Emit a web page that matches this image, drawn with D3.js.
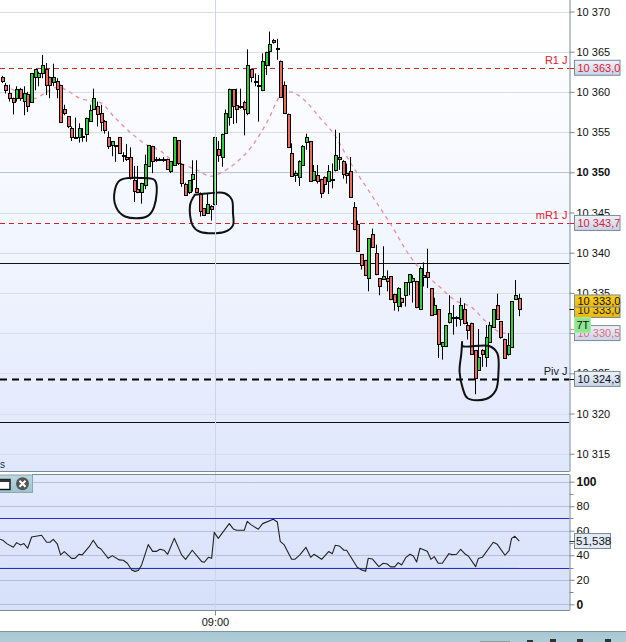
<!DOCTYPE html>
<html><head><meta charset="utf-8">
<script src="https://cdn.jsdelivr.net/npm/d3@7/dist/d3.min.js"></script>
<style>html,body{margin:0;padding:0;background:#fff;overflow:hidden}svg{display:block}text{font-family:"Liberation Sans",Arial,sans-serif}</style>
</head><body><svg id="c" width="626" height="642"></svg>
<script>
const opens=[10361.8,10360.9,10359.9,10359.3,10359.2,10360.4,10358.9,10359.8,10358.7,10361.9,10361.9,10362.3,10362.8,10361.9,10361.2,10361.4,10360.9,10357.9,10357.0,10355.5,10354.4,10354.4,10354.5,10354.8,10356.4,10357.9,10358.3,10357.4,10356.4,10354.4,10353.4,10353.4,10354.4,10352.1,10351.9,10351.9,10349.0,10347.9,10347.5,10348.4,10350.8,10353.3,10351.7,10351.7,10351.6,10351.7,10350.2,10350.9,10354.0,10351.0,10348.5,10347.5,10349.2,10348.0,10347.4,10345.5,10345.0,10345.8,10346.0,10352.9,10351.9,10354.9,10356.9,10360.3,10358.4,10358.3,10358.8,10357.4,10362.8,10361.4,10360.9,10360.2,10363.4,10365.1,10366.5,10365.5,10363.9,10360.9,10357.3,10352.4,10349.7,10349.4,10350.9,10353.8,10353.9,10349.1,10349.7,10349.2,10349.4,10348.9,10349.2,10350.3,10351.9,10351.4,10349.9,10350.2,10345.7,10343.6,10339.8,10339.1,10336.8,10342.3,10340.0,10336.8,10336.7,10336.8,10337.1,10334.9,10333.4,10334.4,10334.7,10336.4,10336.5,10336.5,10333.0,10337.2,10337.6,10335.6,10332.4,10333.0,10328.4,10328.4,10331.4,10332.0,10332.0,10331.8,10333.0,10331.0,10331.3,10327.9,10325.4,10327.9,10327.0,10328.9,10330.8,10333.5,10331.5,10329.3,10327.4,10328.3,10334.3,10334.4];
const highs=[10362.0,10361.1,10360.9,10359.3,10360.7,10360.5,10360.7,10360.0,10362.3,10362.8,10362.5,10364.6,10363.6,10361.9,10363.5,10361.7,10360.9,10358.4,10357.0,10355.7,10356.8,10356.1,10355.5,10356.8,10358.4,10360.4,10358.8,10358.4,10356.5,10355.1,10353.9,10353.4,10354.4,10352.5,10353.5,10353.1,10350.8,10350.8,10348.7,10352.2,10353.4,10353.3,10351.9,10351.8,10351.9,10351.7,10351.4,10354.4,10354.0,10351.1,10348.7,10349.0,10351.5,10351.5,10347.5,10345.5,10347.4,10345.9,10354.4,10353.9,10354.8,10357.8,10360.4,10360.3,10360.4,10360.4,10358.9,10365.3,10362.9,10362.3,10362.1,10364.8,10365.0,10367.5,10366.6,10366.6,10363.9,10361.3,10357.3,10353.6,10350.2,10351.5,10353.4,10354.8,10353.9,10350.9,10350.9,10349.2,10349.5,10350.9,10351.1,10355.3,10354.9,10351.5,10351.1,10351.9,10346.3,10344.0,10339.8,10339.1,10341.8,10343.0,10341.0,10336.8,10340.8,10337.8,10337.1,10334.9,10335.7,10334.4,10336.3,10337.3,10337.2,10336.5,10338.3,10338.8,10340.5,10335.6,10334.4,10333.0,10328.9,10331.0,10334.7,10333.5,10332.1,10334.4,10333.7,10331.4,10331.3,10327.9,10330.5,10328.0,10331.0,10331.4,10333.0,10334.9,10331.5,10329.3,10330.0,10334.0,10336.6,10334.9];
const lows=[10361.1,10359.8,10358.8,10357.2,10358.8,10358.9,10357.1,10357.5,10358.7,10360.2,10360.7,10361.7,10359.6,10359.2,10360.7,10359.2,10356.2,10357.1,10355.5,10353.9,10354.2,10353.7,10353.8,10353.8,10356.3,10357.8,10355.7,10355.1,10354.8,10352.9,10352.0,10351.3,10352.3,10351.3,10351.4,10349.1,10346.3,10347.4,10346.1,10347.9,10350.7,10349.9,10351.3,10351.4,10351.3,10350.3,10349.9,10350.9,10350.9,10348.2,10347.1,10347.3,10347.6,10347.4,10344.5,10344.6,10344.8,10344.0,10345.9,10351.3,10350.7,10354.8,10355.8,10356.0,10356.1,10357.9,10354.6,10357.1,10361.2,10360.7,10356.3,10360.1,10362.1,10363.2,10366.0,10364.0,10359.3,10357.3,10353.2,10349.6,10348.8,10348.3,10350.9,10352.8,10348.8,10349.0,10348.6,10346.8,10347.5,10347.3,10348.0,10350.1,10350.3,10349.2,10348.6,10346.9,10342.8,10340.1,10337.9,10337.1,10335.2,10340.6,10337.2,10334.7,10336.6,10335.2,10334.1,10332.8,10332.7,10333.2,10333.3,10334.7,10333.8,10333.1,10332.9,10335.8,10335.6,10332.2,10332.3,10326.9,10326.7,10328.3,10331.2,10329.8,10330.8,10330.9,10331.1,10329.2,10327.3,10322.4,10325.3,10325.8,10325.8,10328.8,10330.7,10331.8,10329.3,10326.8,10327.2,10328.2,10334.3,10332.1];
const closes=[10361.4,10360.2,10359.3,10358.7,10360.4,10359.2,10359.9,10358.2,10362.3,10362.8,10362.4,10363.3,10360.8,10360.9,10361.8,10360.4,10356.3,10357.4,10355.7,10354.4,10354.3,10355.5,10354.4,10356.8,10357.8,10359.3,10357.3,10356.3,10355.3,10353.3,10353.9,10353.3,10352.4,10352.0,10351.6,10349.3,10347.7,10347.6,10348.7,10351.0,10353.4,10351.4,10351.5,10351.6,10351.5,10350.4,10351.4,10354.4,10351.1,10348.7,10347.2,10349.0,10349.8,10347.5,10345.2,10344.7,10346.1,10345.4,10354.4,10352.1,10354.8,10357.4,10360.4,10358.2,10357.9,10358.2,10357.9,10363.4,10361.8,10361.3,10360.8,10363.8,10365.0,10366.0,10366.2,10365.4,10359.4,10357.4,10353.2,10349.6,10349.9,10351.4,10353.3,10354.4,10348.9,10350.2,10348.9,10347.4,10348.6,10350.2,10349.1,10352.2,10351.7,10349.8,10349.7,10346.9,10342.9,10340.2,10338.5,10337.2,10341.8,10340.7,10337.4,10335.8,10337.1,10336.5,10334.2,10333.9,10335.6,10333.9,10336.3,10337.3,10336.8,10333.2,10338.1,10337.0,10337.0,10332.3,10333.5,10328.7,10328.9,10331.0,10332.5,10331.9,10331.9,10333.5,10331.2,10330.4,10327.4,10324.4,10327.0,10327.4,10329.5,10331.0,10333.0,10331.8,10329.5,10326.9,10328.5,10334.0,10334.8,10333.0];

const maIndex=[2.4,8.9,12.1,15.3,17.6,21.2,23.9,26.6,30.7,35.3,39.4,43,45.7,49.8,53.9,56.6,60.3,63.5,68,72.5,75.7,78.5,82.1,86.6,90.7,94.8,99.8,105.7,111.6,115.7,119.4,123.4,128,132,136.6,140.3];
const maValues=[10360.4,10359.2,10360.0,10360.6,10360.2,10359.2,10358.9,10358.7,10356.8,10354.8,10353.4,10352.7,10351.7,10350.9,10350.1,10349.5,10350.1,10351.1,10353.2,10356.5,10359.4,10360.0,10359.1,10356.8,10354.6,10351.3,10347.8,10343.7,10339.3,10337.2,10335.7,10334.1,10333.2,10331.4,10330.0,10330.6];

const rsiIndex=[-0.6,0.3,1.2,3,3.9,5,5.9,6.9,8,9.2,10.7,12.1,13,13.9,15,15.9,16.9,18.9,19.8,20.9,21.8,23.7,24.8,26,26.9,28.9,30,31.9,33,34.1,35.3,36.2,37.1,38,39.8,41,42.1,43,44.1,45.1,46.9,48.9,50,51.8,54.4,55.1,56.2,57.1,57.8,58.9,61.9,63,63.9,66,66.8,67.8,69.8,71,73.9,75,75.8,76.9,78.9,79.8,81.2,82.8,84.1,85,87.1,89,90,90.8,91.9,93.2,93.9,96.8,98,99.1,99.8,100.9,102.7,103.9,105,105.9,107,108,108.9,110.1,111.2,112.1,113,113.9,115.9,116.9,117.8,118.9,120,121.8,122.7,123.9,125,126.2,127.1,129.1,129.8,130.9,133.9,135,137.1,138.2,138.9,139.8,141];
const rsiValues=[53.0,52.0,49.5,46.5,50.3,48.4,49.5,45.7,54.9,55.5,56.3,50.6,50.6,53.0,49.2,40.3,43.0,37.5,37.5,40.8,40.3,47.0,52.2,46.8,45.1,37.5,39.7,36.2,35.9,33.5,28.0,26.7,27.5,32.1,48.7,43.2,43.2,44.9,44.1,40.8,53.8,40.3,36.7,44.1,34.8,34.3,38.3,37.5,58.7,53.8,65.8,61.5,60.4,60.4,67.7,65.0,61.2,65.8,69.3,67.2,51.4,48.4,36.7,36.7,40.5,46.5,38.3,40.8,36.7,43.0,41.3,48.1,47.6,44.1,44.1,30.2,28.0,26.9,37.5,37.0,30.7,33.5,32.9,30.5,30.5,34.0,32.1,38.3,40.8,39.4,34.5,45.7,43.2,36.7,38.9,33.5,33.5,41.3,40.5,40.8,44.9,41.1,39.4,30.7,37.3,38.3,50.6,48.9,40.0,43.8,53.8,55.5,51.538];

const priceTicks=[10315,10320,10325,10330,10335,10340,10345,10350,10355,10360,10365,10370];
const rsiTicks=[0,20,40,60,80,100];
const rsiMinorTicks=[10,30,50,70,90];
const rsiBands=[30,70];
const levelNames=["R1 J","mR1 J","Piv J"];
const levelValues=[10363.0,10343.7,10324.3];
const levelColors=["#e0202c","#e0202c","#1a1a2e"];
const solidLevels=[10338.7,10318.9];
const lastClose=10333.0, lastMA=10330.5, lastRSI=51.538;
const timeIndex=[58], timeLabels=["09:00"];

const circleA=[[34.4,10349.3],[32.1,10349.0],[30.7,10347.8],[31,10345.7],[33.5,10344.5],[39.4,10344.5],[41.4,10345.7],[41.6,10349.0],[37.5,10349.3],[34.6,10349.3]];
const circleB=[[52.5,10347.2],[56.5,10347.4],[60.7,10347.4],[62.6,10346.6],[62.9,10345],[62.9,10343.4],[60.7,10342.6],[53.9,10342.6],[51.9,10343.4],[51.2,10345.9],[52.5,10347.2]];
const circleC=[[125.4,10328.9],[125.5,10328.4],[132.8,10328.4],[135,10327.5],[135.3,10325.0],[134.6,10322.9],[131.9,10321.8],[126.9,10321.9],[125.6,10323.1],[124.7,10325.2],[125.2,10327.5],[125.4,10328.9]];

const W=626,H=642,plotR=569.5,mainBottom=471.5,rsiTop=474.5,rsiBottom=610.5;
const svg=d3.select("#c");
const defs=svg.append("defs");
function grad(id,stops){const g=defs.append("linearGradient").attr("id",id).attr("x1",0).attr("y1",0).attr("x2",0).attr("y2",1);stops.forEach(s=>g.append("stop").attr("offset",s[0]).attr("stop-color",s[1]));}
grad("gMain",[[0,"#ffffff"],[0.06,"#ffffff"],[0.5,"#f2f6fe"],[1,"#dfe7fc"]]);
grad("gRsi",[[0,"#e3eafe"],[1,"#d6e0f9"]]);
grad("gTag",[[0,"#eef3fc"],[1,"#c5d3ea"]]);
grad("gYel",[[0,"#f9d21e"],[1,"#eeb60c"]]);
grad("gBar",[[0,"#a6c8d3"],[1,"#b0cdd8"]]);
grad("gTab",[[0,"#b9d8e0"],[1,"#9cc3cf"]]);
defs.append("clipPath").attr("id","cMain").append("rect").attr("x",0).attr("y",0).attr("width",plotR).attr("height",mainBottom);

const x=d3.scaleLinear().domain([0,141]).range([2.3,519.3]);
const y=d3.scaleLinear().domain([10315,10370]).range([453.7,11.5]);
const yr=d3.scaleLinear().domain([0,100]).range([604.3,481.7]);
const cr=v=>Math.round(v)+0.5;

// backgrounds
svg.append("rect").attr("x",0).attr("y",0).attr("width",plotR).attr("height",mainBottom).attr("fill","url(#gMain)");
svg.append("rect").attr("x",0).attr("y",rsiTop).attr("width",plotR).attr("height",rsiBottom-rsiTop).attr("fill","url(#gRsi)");

// grid
const main=svg.append("g").attr("clip-path","url(#cMain)");
main.selectAll("line.g").data(priceTicks).join("line").attr("class","g").attr("x1",0).attr("x2",plotR)
  .attr("y1",d=>cr(y(d))).attr("y2",d=>cr(y(d))).attr("stroke",d=>d===10350?"#b9c2d6":"#d8dde8");
svg.append("g").selectAll("line").data(rsiTicks).join("line").attr("x1",0).attr("x2",plotR)
  .attr("y1",d=>cr(yr(d))).attr("y2",d=>cr(yr(d))).attr("stroke","#b4c0d8");
svg.append("g").selectAll("line").data(timeIndex).join("line").attr("x1",d=>cr(x(d))).attr("x2",d=>cr(x(d)))
  .attr("y1",0).attr("y2",rsiBottom).attr("stroke","#cdd6e6");

// levels
main.selectAll("line.s").data(solidLevels).join("line").attr("class","s").attr("x1",0).attr("x2",plotR)
  .attr("y1",d=>cr(y(d))).attr("y2",d=>cr(y(d))).attr("stroke","#111");
main.selectAll("line.l").data(levelValues).join("line").attr("class","l").attr("x1",0).attr("x2",plotR)
  .attr("y1",d=>cr(y(d))).attr("y2",d=>cr(y(d)))
  .attr("stroke",(d,i)=>i===2?"#000":"#d8202a").attr("stroke-width",(d,i)=>i===2?2:1)
  .attr("stroke-dasharray",(d,i)=>i===2?"7 5":"5 4");

// moving average
const ma=maIndex.map((d,i)=>[d,maValues[i]]);
main.append("path").attr("fill","none").attr("stroke","#ea8e9c").attr("stroke-width",1.3).attr("stroke-dasharray","4 4")
  .attr("d",d3.line().x(d=>x(d[0])).y(d=>y(d[1])).curve(d3.curveMonotoneX)(ma));

// candles
const candles=opens.map((o,i)=>({i,o,h:highs[i],l:lows[i],c:closes[i]}));
const cg=main.selectAll("g.c").data(candles).join("g").attr("class","c");
cg.append("line").attr("x1",d=>cr(x(d.i)-0.5)).attr("x2",d=>cr(x(d.i)-0.5)).attr("y1",d=>y(d.h)).attr("y2",d=>y(d.l)).attr("stroke","#000");
cg.append("rect").attr("x",d=>Math.round(x(d.i)-0.5)-0.5).attr("width",3)
  .attr("y",d=>Math.round(y(Math.max(d.o,d.c)))+0.5)
  .attr("height",d=>Math.max(1,Math.round(y(Math.min(d.o,d.c)))-Math.round(y(Math.max(d.o,d.c)))))
  .attr("fill",d=>d.c>=d.o?"#2ed03c":"#ec6a60").attr("stroke","#000");

// hand-drawn marks
[circleA,circleB,circleC].forEach(c=>{
  main.append("path").attr("fill","none").attr("stroke","#111").attr("stroke-width",2).attr("stroke-linecap","round")
    .attr("d",d3.line().x(d=>x(d[0])).y(d=>y(d[1])).curve(d3.curveCatmullRom.alpha(0.5))(c));
});

// level labels
svg.append("g").selectAll("text").data(levelNames).join("text")
  .attr("x",567.5).attr("y",(d,i)=>y(levelValues[i])-4).attr("text-anchor","end").attr("font-size",11)
  .attr("fill",(d,i)=>levelColors[i]).text(d=>d);

// RSI
const rsi=rsiIndex.map((d,i)=>[d,rsiValues[i]]);
defs.append("clipPath").attr("id","cR").append("rect").attr("x",0).attr("width",plotR).attr("y",yr(30)).attr("height",yr(0)-yr(30));
svg.append("path").attr("clip-path","url(#cR)").attr("fill","#8fc4a0")
  .attr("d",d3.area().x(d=>x(d[0])).y0(yr(30)).y1(d=>yr(d[1]))(rsi));
svg.append("g").selectAll("line").data(rsiBands).join("line").attr("x1",0).attr("x2",plotR)
  .attr("y1",d=>cr(yr(d))).attr("y2",d=>cr(yr(d))).attr("stroke","#2a2ad2");
svg.append("path").attr("fill","none").attr("stroke","#222").attr("stroke-width",1.1).attr("stroke-linejoin","round")
  .attr("d",d3.line().x(d=>x(d[0])).y(d=>yr(d[1]))(rsi));

// small tab
svg.append("text").attr("x",0).attr("y",468).attr("font-size",10).attr("fill","#1a2a50").text("s");
svg.append("rect").attr("x",-1).attr("y",475).attr("width",33.5).attr("height",17.5).attr("fill","url(#gTab)").attr("stroke","#8aa7b2");
svg.append("rect").attr("x",-3).attr("y",479.5).attr("width",13).attr("height",10).attr("fill","#fff").attr("stroke","#111").attr("stroke-width",1.4);
svg.append("rect").attr("x",-3).attr("y",479.5).attr("width",13).attr("height",2.5).attr("fill","#333");
svg.append("circle").attr("cx",22.5).attr("cy",483.7).attr("r",6.5).attr("fill","#555");
svg.append("path").attr("d","M19.5 480.7L25.5 486.7M25.5 480.7L19.5 486.7").attr("stroke","#fff").attr("stroke-width",2);

// frames
svg.append("line").attr("x1",0).attr("x2",plotR).attr("y1",mainBottom).attr("y2",mainBottom).attr("stroke","#7b8b94");
svg.append("line").attr("x1",32).attr("x2",plotR).attr("y1",rsiTop).attr("y2",rsiTop).attr("stroke","#7b8b94");
svg.append("line").attr("x1",0).attr("x2",plotR).attr("y1",rsiBottom).attr("y2",rsiBottom).attr("stroke","#7b8b94");

// axes
const fmt=d=>{const s=String(d);return s.slice(0,2)+" "+s.slice(2);};
const axP=d3.axisRight(y).tickValues(priceTicks).tickSize(5).tickPadding(2).tickFormat(fmt);
const gP=svg.append("g").attr("transform",`translate(${plotR},0)`).call(axP);
gP.select(".domain").attr("d",`M0.5,0V${mainBottom}`).attr("stroke","#7b8b94");
gP.selectAll(".tick line").attr("stroke","#7b8b94");
gP.selectAll(".tick text").attr("font-size",11).attr("font-family","'Liberation Sans'").attr("fill","#111")
  .attr("font-weight",d=>d===10350?"bold":"normal");
const axR=d3.axisRight(yr).tickValues(rsiTicks).tickSize(5).tickPadding(2);
const gR=svg.append("g").attr("transform",`translate(${plotR},0)`).call(axR);
gR.select(".domain").attr("d",`M0.5,${rsiTop}V${rsiBottom}`).attr("stroke","#7b8b94");
gR.selectAll(".tick line").attr("stroke","#7b8b94");
gR.selectAll(".tick text").attr("font-size",d=>(d===100||d===0)?12:11.5).attr("font-family","'Liberation Sans'").attr("fill","#111")
  .attr("font-weight",d=>(d===100||d===0)?"bold":"normal");
svg.append("g").selectAll("line").data(rsiMinorTicks).join("line").attr("x1",plotR).attr("x2",plotR+4)
  .attr("y1",d=>cr(yr(d))).attr("y2",d=>cr(yr(d))).attr("stroke","#7b8b94");
const axT=d3.axisBottom(x).tickValues(timeIndex).tickSize(5).tickPadding(3).tickFormat((d,i)=>timeLabels[i]);
const gT=svg.append("g").attr("transform",`translate(0,${rsiBottom})`).call(axT);
gT.select(".domain").remove();
gT.selectAll(".tick line").attr("stroke","#7b8b94");
gT.selectAll(".tick text").attr("font-size",11).attr("font-family","'Liberation Sans'").attr("fill","#111");

// price tags
function tag(cy,label,fill,color,h=15,w=45.5,x0=574.5){
  svg.append("rect").attr("x",x0).attr("y",cy-h/2).attr("width",w).attr("height",h).attr("fill",fill).attr("stroke","#7b8b94");
  svg.append("text").attr("x",x0+3).attr("y",cy+4).attr("font-size",11).attr("fill",color).text(label);
}
const pf=v=>{const s=v.toFixed(1).replace(".",",");return s.slice(0,2)+" "+s.slice(2);};
[[lastClose,"#000"],[lastMA,"#e88"],[levelValues[0],"#d8202a"],[levelValues[1],"#d8202a"],[levelValues[2],"#000"]].forEach(([v,c])=>{
  svg.append("line").attr("x1",plotR).attr("x2",plotR+5).attr("y1",cr(y(v))).attr("y2",cr(y(v))).attr("stroke",c);
});
tag(y(levelValues[0]),pf(levelValues[0]),"url(#gTag)","#e0202c");
tag(y(levelValues[1]),pf(levelValues[1]),"url(#gTag)","#e0202c");
tag(y(levelValues[2]),pf(levelValues[2]),"url(#gTag)","#111");
tag(y(lastMA)+4,pf(lastMA),"url(#gTag)","#e46a70");
tag(y(lastClose)+1,pf(lastClose),"url(#gYel)","#222");
tag(y(lastClose)-8,pf(lastClose),"url(#gYel)","#111",12);
svg.append("rect").attr("x",574.5).attr("y",317.5).attr("width",16).attr("height",15).attr("fill","#8fe68f").attr("stroke","#a8eaa8");
svg.append("text").attr("x",576.5).attr("y",329).attr("font-size",11).attr("fill","#111").text("7T");
svg.append("rect").attr("x",574.5).attr("y",533.5).attr("width",36).attr("height",15).attr("fill","#e2eaf8").attr("stroke","#7b8b94");
svg.append("text").attr("x",576).attr("y",545).attr("font-size",11.5).attr("fill","#111").text(String(lastRSI).replace(".",","));
svg.append("line").attr("x1",plotR).attr("x2",plotR+5).attr("y1",cr(yr(lastRSI))).attr("y2",cr(yr(lastRSI))).attr("stroke","#333");

// bottom bar
svg.append("rect").attr("x",0).attr("y",631.5).attr("width",W).attr("height",11).attr("fill","url(#gBar)");
svg.append("line").attr("x1",0).attr("x2",W).attr("y1",631.5).attr("y2",631.5).attr("stroke","#7f959e");
svg.append("rect").attr("x",480).attr("y",641).attr("width",30).attr("height",1).attr("fill","#8b9ca3");
[[530,2],[553,3],[580,3],[608,3]].forEach(([a,h])=>svg.append("rect").attr("x",a-3).attr("y",642-h).attr("width",6).attr("height",h).attr("fill","#333"));
</script></body></html>
